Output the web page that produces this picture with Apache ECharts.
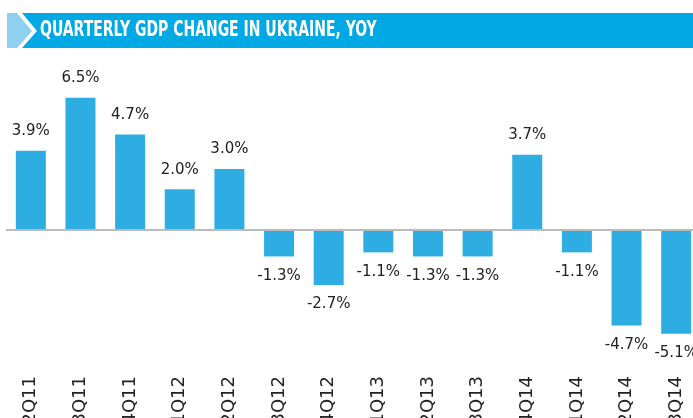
<!DOCTYPE html>
<html>
<head>
<meta charset="utf-8">
<script src="https://cdn.jsdelivr.net/npm/echarts@6/dist/echarts.min.js"></script>
<style>
  html, body { margin: 0; padding: 0; background: #fff; }
  #chart { width: 693px; height: 418px; }
</style>
</head>
<body>
<div id="chart"></div>
<script>
// quarters and yoy gdp change, %
const quarters = ['2Q11', '3Q11', '4Q11', '1Q12', '2Q12', '3Q12', '4Q12', '1Q13', '2Q13', '3Q13', '4Q14', '1Q14', '2Q14', '3Q14']
const gdpChange = [3.9, 6.5, 4.7, 2.0, 3.0, -1.3, -2.7, -1.1, -1.3, -1.3, 3.7, -1.1, -4.7, -5.1]
const titleText = 'QUARTERLY GDP CHANGE IN UKRAINE, YOY'

const labelFont = '"DejaVu Sans", sans-serif'

var myChart = echarts.init(document.getElementById('chart'))
myChart.setOption({
  animation: false,
  graphic: [
    // banner: light chevron part
    {
      type: 'polygon',
      shape: { points: [[7, 13], [17, 13], [32, 31], [17, 48], [7, 48]] },
      style: { fill: '#8fd0f1' }
    },
    {
      type: 'polygon',
      shape: { points: [[22, 13], [693, 13], [693, 48], [22, 48], [37, 31]] },
      style: { fill: '#00a8e4' }
    },
    {
      type: 'text',
      x: 40,
      y: 31,
      scaleX: 0.74,
      style: {
        text: titleText,
        fill: '#fff',
        verticalAlign: 'middle',
        font: 'bold 21px "Liberation Sans Narrow", "DejaVu Sans Condensed", sans-serif'
      }
    }
  ],
  grid: {
    left: 6,
    right: -8,
    top: 87.7,
    bottom: 66,
    containLabel: false,
    outerBoundsMode: 'none'
  },
  xAxis: {
    type: 'category',
    data: quarters,
    axisLine: { show: false, onZero: false },
    axisTick: { show: false },
    axisLabel: {
      rotate: 90,
      margin: 24,
      fontSize: 18,
      color: '#222',
      fontFamily: labelFont,
      interval: 0
    }
  },
  yAxis: {
    type: 'value',
    min: -6,
    max: 7,
    show: false,
    splitLine: { show: false }
  },
  series: [
    {
      type: 'bar',
      data: gdpChange.map(v => ({
        value: v,
        label: { position: v >= 0 ? 'top' : 'bottom' }
      })),
      barWidth: 30,
      itemStyle: { color: '#2eade3' },
      label: {
        show: true,
        distance: 12,
        fontSize: 15,
        color: '#222',
        fontFamily: labelFont,
        formatter: p => p.value.toFixed(1) + '%'
      },
      markLine: {
        silent: true,
        symbol: 'none',
        label: { show: false },
        lineStyle: { color: '#bbbbbb', width: 2, type: 'solid' },
        data: [{ yAxis: 0 }]
      }
    }
  ]
})
</script>
</body>
</html>
